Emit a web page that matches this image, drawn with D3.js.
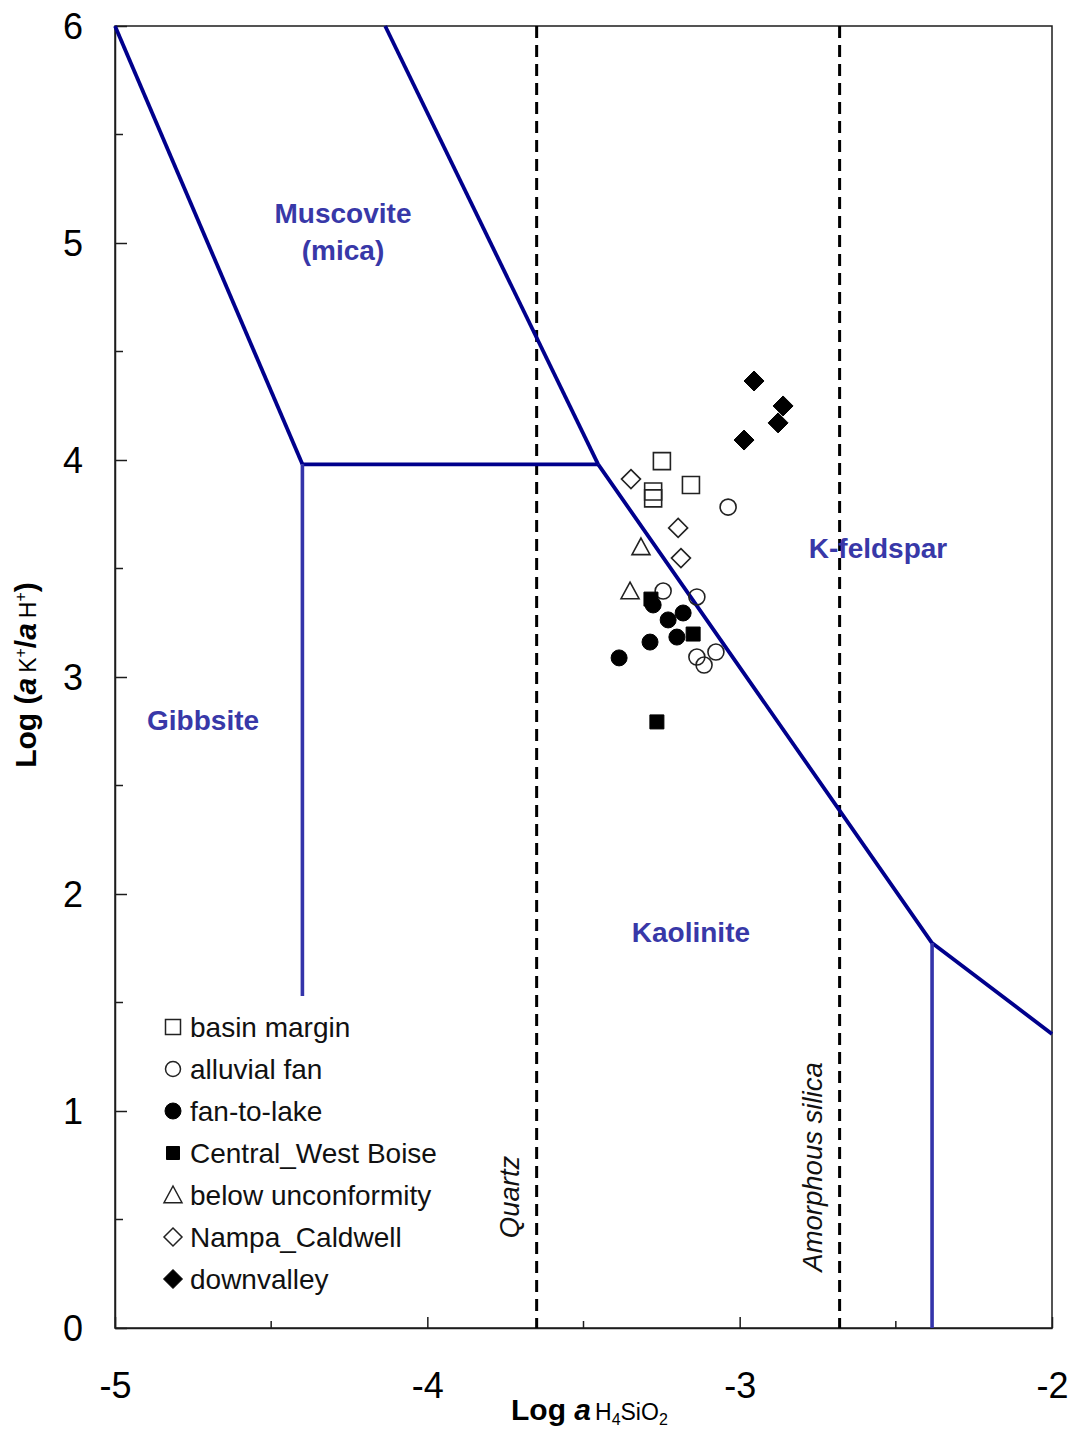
<!DOCTYPE html>
<html>
<head>
<meta charset="utf-8">
<script src="https://cdn.jsdelivr.net/npm/d3@7"></script>
<style>
  html, body { margin: 0; padding: 0; background: #fff; }
  svg { display: block; font-family: "Liberation Sans", Arial, sans-serif; }
</style>
</head>
<body>
<svg id="chart" width="1086" height="1429"></svg>
<script>
// Axis ranges and ticks
const xDomain = [-5, -2];
const yDomain = [0, 6];
const xMajorTicks = [-5, -4, -3, -2];
const xMinorTicks = [-4.5, -3.5, -2.5];
const yMajorTicks = [0, 1, 2, 3, 4, 5, 6];
const yMinorTicks = [0.5, 1.5, 2.5, 3.5, 4.5, 5.5];

// Silica saturation lines (log a H4SiO4)
const quartzSat = -3.65;
const amorphousSilicaSat = -2.68;

// Phase boundaries, as [log aH4SiO4, log(aK+/aH+)] vertices
const gibbsiteMuscovite = [[-5, 6], [-4.4, 3.98]];
const gibbsiteKaolinite = [[-4.4, 3.98], [-4.4, 1.53]];
const muscoviteKaolinite = [[-4.4, 3.98], [-3.453, 3.98]];
const muscoviteKfeldspar = [[-4.135, 6], [-3.453, 3.98]];
const kaoliniteKfeldspar = [[-3.453, 3.98], [-2.384, 1.774], [-2, 1.355]];
const kaoliniteKfeldsparLow = [[-2.384, 1.774], [-2.384, 0]];

// Water samples by group
const basinMargin = [[-3.249, 3.995], [-3.156, 3.885], [-3.277, 3.855], [-3.277, 3.823]];
const alluvialFan = [[-3.037, 3.783], [-3.245, 3.396], [-3.137, 3.369], [-3.137, 3.092], [-3.114, 3.055], [-3.076, 3.115]];
const fanToLake = [[-3.277, 3.332], [-3.229, 3.263], [-3.181, 3.295], [-3.201, 3.184], [-3.287, 3.161], [-3.386, 3.088]];
const centralWestBoise = [[-3.284, 3.359], [-3.149, 3.198], [-3.265, 2.793]];
const belowUnconformity = [[-3.316, 3.599], [-3.351, 3.396]];
const nampaCaldwell = [[-3.348, 3.912], [-3.197, 3.687], [-3.188, 3.548]];
const downvalley = [[-2.954, 4.364], [-2.861, 4.249], [-2.877, 4.171], [-2.986, 4.092]];

const seriesNames = ["basin margin", "alluvial fan", "fan-to-lake", "Central_West Boise",
                     "below unconformity", "Nampa_Caldwell", "downvalley"];

// Mineral field labels: [text lines, x, y]
const fieldLabels = [
  [["Muscovite", "(mica)"], -4.27, 5.055],
  [["Gibbsite"], -4.718, 2.802],
  [["K-feldspar"], -2.557, 3.594],
  [["Kaolinite"], -3.156, 1.825]
];

const svg = d3.select("#chart");
const plot = { left: 115, right: 1052, top: 26, bottom: 1328 };
const x = d3.scaleLinear(xDomain, [plot.left, plot.right]);
const y = d3.scaleLinear(yDomain, [plot.bottom, plot.top]);

const axisColor = "#1c1c1c";
const lineNavy = "#00008c";
const lineBlue = "#3434aa";
const labelBlue = "#3838a8";

// Frame
svg.append("rect")
  .attr("x", plot.left).attr("y", plot.top)
  .attr("width", plot.right - plot.left).attr("height", plot.bottom - plot.top)
  .attr("fill", "none").attr("stroke", axisColor).attr("stroke-width", 1.5);

// Axes with inward ticks
const gx = svg.append("g").attr("transform", `translate(0,${plot.bottom})`)
  .call(d3.axisBottom(x).tickValues(xMajorTicks).tickSizeInner(-11).tickSizeOuter(0)
    .tickPadding(44).tickFormat(d => String(d)));
const gy = svg.append("g").attr("transform", `translate(${plot.left},0)`)
  .call(d3.axisLeft(y).tickValues(yMajorTicks).tickSizeInner(-12).tickSizeOuter(0)
    .tickPadding(32).tickFormat(d => String(d)));
[gx, gy].forEach(g => {
  g.select(".domain").attr("stroke", axisColor).attr("stroke-width", 1.5);
  g.selectAll(".tick line").attr("stroke", axisColor).attr("stroke-width", 1.5);
  g.selectAll(".tick text").attr("fill", "#000").attr("font-size", 36)
    .attr("font-family", "'Liberation Sans', Arial, sans-serif");
});
gy.selectAll(".tick text").attr("dy", "0.36em");

svg.append("g").selectAll("line").data(xMinorTicks).join("line")
  .attr("x1", d => x(d)).attr("x2", d => x(d))
  .attr("y1", plot.bottom).attr("y2", plot.bottom - 7)
  .attr("stroke", axisColor).attr("stroke-width", 1.5);
svg.append("g").selectAll("line").data(yMinorTicks).join("line")
  .attr("x1", plot.left).attr("x2", plot.left + 8)
  .attr("y1", d => y(d)).attr("y2", d => y(d))
  .attr("stroke", axisColor).attr("stroke-width", 1.5);

// Silica saturation lines
[quartzSat, amorphousSilicaSat].forEach(v => {
  svg.append("line")
    .attr("x1", x(v)).attr("x2", x(v)).attr("y1", y(6)).attr("y2", y(0))
    .attr("stroke", "#000").attr("stroke-width", 3).attr("stroke-dasharray", "12,7");
});
const satLabel = (text, v, yc) => svg.append("text")
  .attr("transform", `translate(${x(v) - 18},${y(yc)}) rotate(-90)`)
  .attr("text-anchor", "middle").attr("font-size", 27.5).attr("font-style", "italic")
  .attr("fill", "#111").text(text);
satLabel("Quartz", quartzSat, 0.604);
satLabel("Amorphous silica", amorphousSilicaSat, 0.742);

// Phase boundaries
const line = d3.line().x(d => x(d[0])).y(d => y(d[1]));
[gibbsiteMuscovite, muscoviteKaolinite, muscoviteKfeldspar, kaoliniteKfeldspar].forEach(pts => {
  svg.append("path").attr("d", line(pts)).attr("fill", "none")
    .attr("stroke", lineNavy).attr("stroke-width", 3.8).attr("stroke-linejoin", "round");
});
[gibbsiteKaolinite, kaoliniteKfeldsparLow].forEach(pts => {
  svg.append("path").attr("d", line(pts)).attr("fill", "none")
    .attr("stroke", lineBlue).attr("stroke-width", 3.6);
});

// Mineral field labels
fieldLabels.forEach(([lines, lx, ly]) => {
  const t = svg.append("text").attr("text-anchor", "middle").attr("font-weight", "bold")
    .attr("font-size", 28).attr("fill", labelBlue);
  lines.forEach((s, i) => {
    t.append("tspan").attr("x", x(lx))
      .attr("y", y(ly) + (i - (lines.length - 1) / 2) * 37 + 10).text(s);
  });
});

// Marker shapes (r = half-width)
const shapes = {
  square: r => `M${-r},${-r}H${r}V${r}H${-r}Z`,
  circle: r => `M${r},0A${r},${r} 0 1,1 ${-r},0A${r},${r} 0 1,1 ${r},0Z`,
  diamond: r => `M0,${-r}L${r},0L0,${r}L${-r},0Z`,
  triangle: r => `M0,${-r}L${r},${r * 0.85}L${-r},${r * 0.85}Z`
};
const seriesStyle = [
  { data: basinMargin, shape: "square", filled: false, r: 8.5, lr: 7.5 },
  { data: alluvialFan, shape: "circle", filled: false, r: 8, lr: 7.5 },
  { data: fanToLake, shape: "circle", filled: true, r: 8, lr: 8 },
  { data: centralWestBoise, shape: "square", filled: true, r: 7, lr: 6.5 },
  { data: belowUnconformity, shape: "triangle", filled: false, r: 9, lr: 9 },
  { data: nampaCaldwell, shape: "diamond", filled: false, r: 9.5, lr: 9 },
  { data: downvalley, shape: "diamond", filled: true, r: 10, lr: 9.5 }
];

seriesStyle.forEach(s => {
  svg.append("g").selectAll("path").data(s.data).join("path")
    .attr("transform", d => `translate(${x(d[0])},${y(d[1])})`)
    .attr("d", shapes[s.shape](s.r))
    .attr("fill", s.filled ? "#000" : "none")
    .attr("stroke", s.filled ? "#000" : "#222")
    .attr("stroke-width", s.filled ? 1 : 1.6);
});

// Legend
const legend = svg.append("g").attr("transform", "translate(173,1027)");
seriesNames.forEach((name, i) => {
  const s = seriesStyle[i];
  const row = legend.append("g").attr("transform", `translate(0,${i * 42})`);
  row.append("path").attr("d", shapes[s.shape](s.lr))
    .attr("fill", s.filled ? "#000" : "none")
    .attr("stroke", s.filled ? "#000" : "#222").attr("stroke-width", s.filled ? 1 : 1.5);
  row.append("text").attr("x", 17).attr("y", 10).attr("font-size", 28)
    .attr("fill", "#111").text(name);
});

// Axis titles
const xt = svg.append("text").attr("x", 511).attr("y", 1420).attr("fill", "#000");
xt.append("tspan").attr("font-size", 30).attr("font-weight", "bold").text("Log ");
xt.append("tspan").attr("font-size", 30).attr("font-weight", "bold").attr("font-style", "italic").text("a");
xt.append("tspan").attr("font-size", 23).attr("dx", 4).text("H");
xt.append("tspan").attr("font-size", 16).attr("dy", 5).text("4");
xt.append("tspan").attr("font-size", 23).attr("dy", -5).text("SiO");
xt.append("tspan").attr("font-size", 16).attr("dy", 5).text("2");

const yt = svg.append("text").attr("transform", "translate(36,675) rotate(-90)")
  .attr("text-anchor", "middle").attr("fill", "#000");
yt.append("tspan").attr("font-size", 30).attr("font-weight", "bold").text("Log (");
yt.append("tspan").attr("font-size", 30).attr("font-weight", "bold").attr("font-style", "italic").text("a");
yt.append("tspan").attr("font-size", 23).attr("dx", 5).text("K");
yt.append("tspan").attr("font-size", 16).attr("dy", -10).text("+");
yt.append("tspan").attr("font-size", 30).attr("font-weight", "bold").attr("dy", 10).text("/");
yt.append("tspan").attr("font-size", 30).attr("font-weight", "bold").attr("font-style", "italic").text("a");
yt.append("tspan").attr("font-size", 23).attr("dx", 5).text("H");
yt.append("tspan").attr("font-size", 16).attr("dy", -10).text("+");
yt.append("tspan").attr("font-size", 30).attr("font-weight", "bold").attr("dy", 10).text(")");
</script>
</body>
</html>
